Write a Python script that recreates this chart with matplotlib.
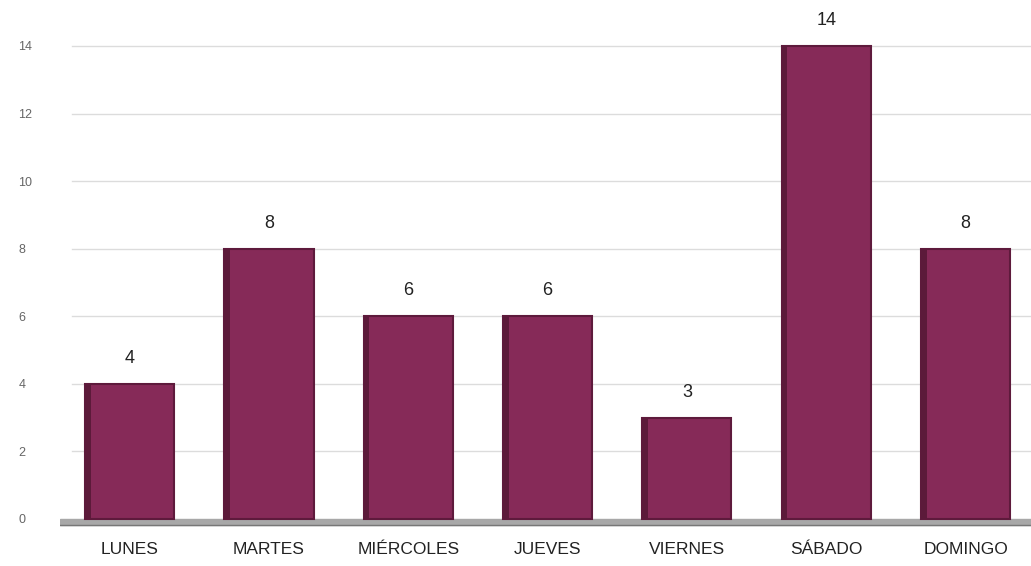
import numpy as np
import matplotlib.pyplot as plt

plt.rcParams['font.family'] = ['Liberation Sans', 'DejaVu Sans']

dias = ["LUNES", "MARTES", "MIÉRCOLES", "JUEVES", "VIERNES", "SÁBADO", "DOMINGO"]
valores = [4, 8, 6, 6, 3, 14, 8]
yticks = [0, 2, 4, 6, 8, 10, 12, 14]

fig = plt.figure(figsize=(10.31, 5.66), dpi=100)
ax = fig.add_axes([60 / 1031, 38 / 566, 971 / 1031, 528 / 566])

x = np.arange(len(dias))

# lineas de la grilla
for t in yticks[1:]:
    ax.axhline(t, xmin=0.012, color="#dcdcdc", linewidth=1.0, zorder=0)

# piso del grafico tipo 3D
ax.axhspan(-0.17, 0.0, color="#a8a8a8", zorder=1)
ax.axhline(-0.17, color="#777777", linewidth=1.0, zorder=1)

ax.bar(x, valores, width=0.64, color="#862a58", edgecolor="#5e1a3c",
       linewidth=1.5, zorder=2)
# cara lateral mas oscura
ax.bar(x - 0.30, valores, width=0.04, color="#5c1a3a", linewidth=0, zorder=3)

for xi, v in zip(x, valores):
    ax.text(xi, v + 0.5, str(v), ha="center", va="bottom", fontsize=13,
            color="#222222")

ax.set_xlim(-0.5, 6.47)
ax.set_ylim(-0.27, 15.36)
ax.set_xticks(x)
ax.set_xticklabels(dias, fontsize=12.5, color="#222222")
ax.tick_params(axis="x", length=0, pad=10)
ax.set_yticks(yticks)
ax.set_yticklabels([str(t) for t in yticks], fontsize=9, color="#666666")
ax.tick_params(axis="y", length=0, pad=30)
for s in ax.spines.values():
    s.set_visible(False)
for lbl in ax.get_yticklabels():
    lbl.set_horizontalalignment("left")

plt.savefig("out.png", dpi=100)
